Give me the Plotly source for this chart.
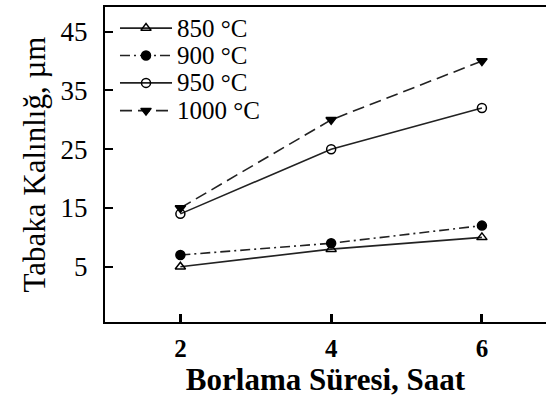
import plotly.graph_objects as go

# Boriding time (hours) and layer thickness (µm) per temperature
sure_saat = [2, 4, 6]
kalinlik_850 = [5, 8, 10]
kalinlik_900 = [7, 9, 12]
kalinlik_950 = [14, 25, 32]
kalinlik_1000 = [15, 30, 40]

y_ticks = [5, 15, 25, 35, 45]
x_ticks = [2, 4, 6]
seri_adlari = ["850 °C", "900 °C", "950 °C", "1000 °C"]

serif = "Liberation Serif, Times New Roman, serif"
ink = "#000000"
line_ink = "#222222"

styles = [
    ("solid", "triangle-up-open"),
    ("10px,4px,2px,4px", "circle"),
    ("solid", "circle-open"),
    ("12px,6px", "triangle-down"),
]
values = [kalinlik_850, kalinlik_900, kalinlik_950, kalinlik_1000]

fig = go.Figure()
for name, vals, (dash, sym) in zip(seri_adlari, values, styles):
    fig.add_trace(go.Scatter(
        x=sure_saat, y=vals, name=name, mode="lines+markers", showlegend=False,
        line=dict(color=line_ink, width=1.6, dash=dash),
        marker=dict(symbol=sym, size=9, color=ink, line=dict(color=ink, width=1.5)),
    ))

# Compact legend drawn in the upper-left corner of the plot area
# (overlay axes span 0..1 in both directions)
legend_rows = [0.933, 0.846, 0.759, 0.671]
seg_left, seg_right, seg_mid, text_left = 0.034, 0.152, 0.093, 0.160
for name, row, (dash, sym) in zip(seri_adlari, legend_rows, styles):
    fig.add_trace(go.Scatter(
        x=[seg_left, seg_right], y=[row, row], xaxis="x2", yaxis="y2",
        mode="lines", showlegend=False, hoverinfo="skip",
        line=dict(color=line_ink, width=1.6, dash=dash),
    ))
    fig.add_trace(go.Scatter(
        x=[seg_mid], y=[row], xaxis="x2", yaxis="y2",
        mode="markers", showlegend=False, hoverinfo="skip",
        marker=dict(symbol=sym, size=9, color=ink, line=dict(color=ink, width=1.5)),
    ))
    fig.add_annotation(
        x=text_left, y=row, xref="x2", yref="y2", text=name, showarrow=False,
        xanchor="left", yanchor="middle", borderpad=0,
        font=dict(size=25, family=serif, color=ink),
    )

fig.update_layout(
    width=546, height=399,
    margin=dict(l=105, r=0, t=7, b=77),
    paper_bgcolor="white", plot_bgcolor="white",
    font=dict(family=serif, color=ink, size=24),
    showlegend=False,
    xaxis=dict(
        range=[1.0, 6.85], tickvals=x_ticks, ticktext=[str(v) for v in x_ticks],
        showgrid=False, zeroline=False,
        showline=True, linecolor=ink, linewidth=2, mirror=True,
        ticks="inside", ticklen=8, tickwidth=3, tickcolor=ink,
        ticklabelstandoff=3,
        tickfont=dict(size=25, family=serif, weight="bold", color=ink),
        title=dict(text="<b>Borlama Süresi, Saat</b>",
                   font=dict(size=31, family=serif, color=ink), standoff=0),
    ),
    yaxis=dict(
        range=[-4.4, 49.2], tickvals=y_ticks, ticktext=[str(v) for v in y_ticks],
        showgrid=False, zeroline=False,
        showline=True, linecolor=ink, linewidth=2,
        ticks="inside", ticklen=8, tickwidth=2, tickcolor=ink,
        ticklabelstandoff=10,
        tickfont=dict(size=27, family=serif, color=ink),
        title=dict(text="Tabaka Kalınlığ, µm",
                   font=dict(size=31, family=serif, color=ink), standoff=6),
    ),
    xaxis2=dict(range=[0, 1], overlaying="x", anchor="y2", visible=False, fixedrange=True),
    yaxis2=dict(range=[0, 1], overlaying="y", anchor="x2", visible=False, fixedrange=True),
)

fig.write_html("out.html")
